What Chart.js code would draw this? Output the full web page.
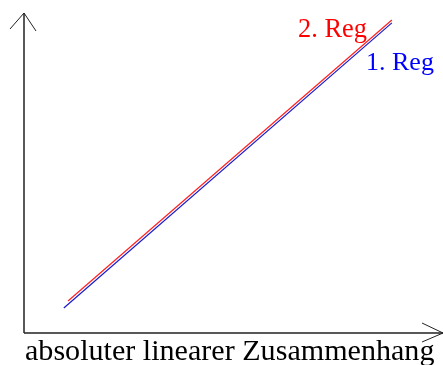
<!DOCTYPE html>
<html>
<head>
<meta charset="utf-8">
<script src="https://cdn.jsdelivr.net/npm/chart.js@4"></script>
<style>
  html, body { margin: 0; padding: 0; background: #fff; }
  canvas { display: block; }
</style>
</head>
<body>
<canvas id="chart" width="443" height="365"></canvas>
<script>
// Regression lines (start and end points, data units 0..100)
const reg1X = [9.5, 87.8];
const reg1Y = [7.8, 96.9];
const reg2X = [10.5, 87.8];
const reg2Y = [10.0, 97.8];
const reg1Label = '1. Reg';
const reg2Label = '2. Reg';
const xAxisLabel = 'absoluter linearer Zusammenhang';

const toPoints = (xs, ys) => xs.map((x, i) => ({ x: x, y: ys[i] }));

// font size that makes the text as wide as wanted
function fitFont(ctx, text, width, family) {
    ctx.font = '100px ' + family;
    const size = 100 * width / ctx.measureText(text).width;
    return size.toFixed(1) + 'px ' + family;
}

// Draw axes with arrows and the text labels
const axesPlugin = {
    id: 'axesPlugin',
    afterDraw(chart) {
        const ctx = chart.ctx;
        const a = chart.chartArea;
        const family = '"Liberation Serif", serif';
        ctx.save();
        ctx.strokeStyle = '#222';
        ctx.lineWidth = 1.5;
        ctx.beginPath();
        ctx.moveTo(a.left, a.bottom);
        ctx.lineTo(a.left, a.top);
        ctx.moveTo(a.left, a.bottom);
        ctx.lineTo(a.right, a.bottom);
        ctx.stroke();

        ctx.lineWidth = 1;
        ctx.beginPath();
        // y arrow
        ctx.moveTo(a.left - 14, a.top + 16);
        ctx.lineTo(a.left, a.top);
        ctx.lineTo(a.left + 12, a.top + 18);
        // x arrow
        ctx.moveTo(a.right - 21, a.bottom - 10);
        ctx.lineTo(a.right, a.bottom);
        ctx.lineTo(a.right - 21, a.bottom + 9);
        ctx.stroke();

        ctx.textBaseline = 'alphabetic';
        ctx.font = fitFont(ctx, reg2Label, 69, family);
        ctx.fillStyle = '#ff0000';
        ctx.fillText(reg2Label, 298, 37);
        ctx.font = fitFont(ctx, reg1Label, 68, family);
        ctx.fillStyle = '#0000ff';
        ctx.fillText(reg1Label, 366, 70);

        ctx.fillStyle = '#000';
        ctx.font = fitFont(ctx, xAxisLabel, 410, family);
        ctx.fillText(xAxisLabel, 25, 360);
        ctx.restore();
    }
};

new Chart(document.getElementById('chart'), {
    type: 'scatter',
    data: {
        datasets: [
            { label: reg1Label, data: toPoints(reg1X, reg1Y), showLine: true, borderColor: '#1a1acc', borderWidth: 1.2, pointRadius: 0 },
            { label: reg2Label, data: toPoints(reg2X, reg2Y), showLine: true, borderColor: '#ff2020', borderWidth: 1.2, pointRadius: 0 }
        ]
    },
    options: {
        responsive: false,
        animation: false,
        layout: { padding: { left: 24, right: 0, top: 13, bottom: 32 } },
        plugins: { legend: { display: false }, tooltip: { enabled: false } },
        scales: {
            x: { type: 'linear', min: 0, max: 100, display: false },
            y: { type: 'linear', min: 0, max: 100, display: false }
        }
    },
    plugins: [axesPlugin]
});
</script>
</body>
</html>
